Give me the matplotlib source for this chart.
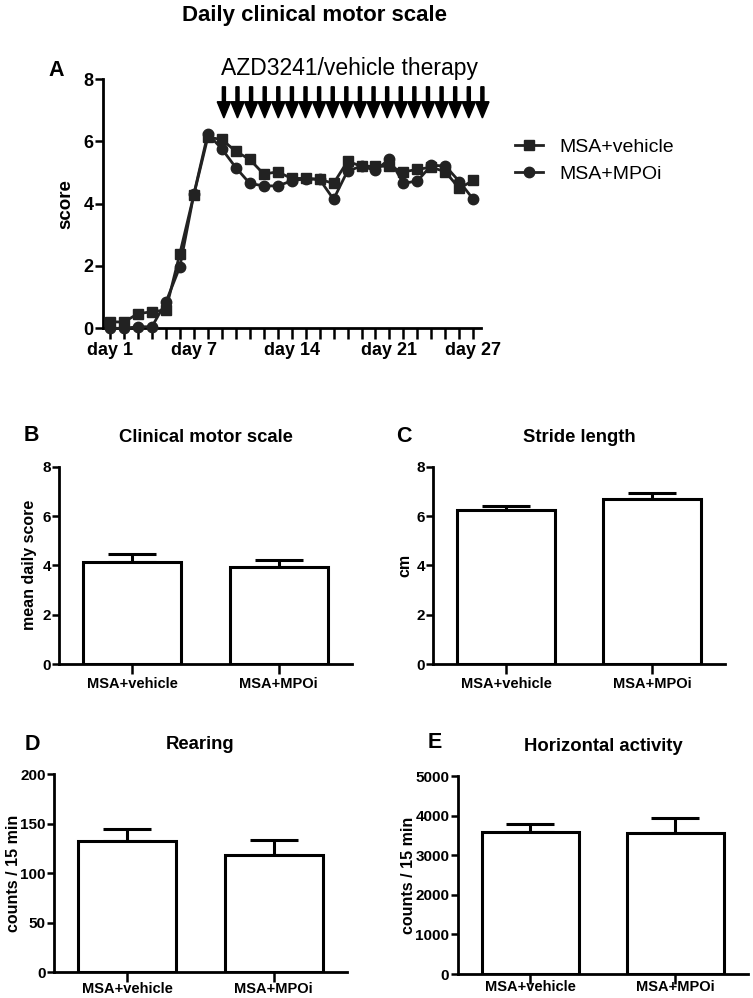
##Daily clinical motor scale + behavioural read-outs (panels A-E)
import numpy as np
import matplotlib
matplotlib.use('Agg')
import matplotlib.pyplot as plt

plt.rcParams['font.family'] = ['Liberation Sans', 'DejaVu Sans']

##Data
days = list(range(1, 28))
vehicle = [0.21, 0.20, 0.47, 0.53, 0.59, 2.40, 4.28, 6.13, 6.06, 5.68, 5.42, 4.95, 5.02,
           4.81, 4.81, 4.78, 4.65, 5.36, 5.20, 5.20, 5.20, 5.02, 5.10, 5.17, 5.02, 4.49, 4.75]
mpoi = [0.00, 0.00, 0.05, 0.05, 0.84, 1.97, 4.30, 6.24, 5.76, 5.16, 4.65, 4.57, 4.57,
        4.73, 4.80, 4.78, 4.14, 5.05, 5.20, 5.07, 5.43, 4.65, 4.73, 5.23, 5.21, 4.71, 4.14]
day_labels = {1: 'day 1', 7: 'day 7', 14: 'day 14', 21: 'day 21', 27: 'day 27'}

groups = ['MSA+vehicle', 'MSA+MPOi']
motor_mean = [4.14, 3.95]
motor_sem = [0.31, 0.25]
stride_mean = [6.23, 6.70]
stride_sem = [0.16, 0.22]
rearing_mean = [132.6, 118.8]
rearing_sem = [11.8, 14.5]
horiz_mean = [3578, 3553]
horiz_sem = [210, 379]

dark = '#222222'
W, H = 753, 998

fig = plt.figure(figsize=(W / 100, H / 100), dpi=100)


def style_axes(ax):
    ax.spines['top'].set_visible(False)
    ax.spines['right'].set_visible(False)
    for s in ['left', 'bottom']:
        ax.spines[s].set_linewidth(2.0)


#Panel A - line chart
ax = fig.add_axes([103 / W, 1 - 328.3 / H, 378 / W, 249.3 / H])
ax.plot(days, vehicle, '-s', color=dark, lw=2.0, ms=7, label='MSA+vehicle', clip_on=False, zorder=3)
ax.plot(days, mpoi, '-o', color=dark, lw=2.0, ms=7.5, label='MSA+MPOi', clip_on=False, zorder=3)
ax.set_xlim(0.5, 27.55)
ax.set_ylim(0, 8)
style_axes(ax)
ax.set_xticks(days)
ax.set_xticklabels([day_labels.get(d, '') for d in days], fontsize=13, fontweight='bold')
ax.set_yticks([0, 2, 4, 6, 8])
ax.set_yticklabels(['0', '2', '4', '6', '8'], fontsize=13, fontweight='bold')
ax.tick_params(axis='x', length=8, width=1.8, pad=2)
ax.tick_params(axis='y', length=6, width=1.8, pad=1)
ax.set_ylabel('score', fontsize=13.5, fontweight='bold')
ax.yaxis.set_label_coords(-0.077, 0.5)

#therapy arrows
for xa in np.linspace(9.15, 27.65, 20):
    ax.arrow(xa, 7.75, 0, -1.0, width=0.22, head_width=0.95, head_length=0.52,
             length_includes_head=True, color='k', clip_on=False)
ax.text(8.95, 8.12, 'AZD3241/vehicle therapy', fontsize=16.5, ha='left', va='baseline', clip_on=False)

ax.legend(loc='upper left', bbox_to_anchor=(515 / W, 1 - 138 / H), bbox_transform=fig.transFigure,
          frameon=False, fontsize=14, handlelength=1.45, handletextpad=0.85, labelspacing=0.5,
          borderpad=0, borderaxespad=0)

fig.text(315 / W, 1 - 20.7 / H, 'Daily clinical motor scale', ha='center', va='baseline',
         fontsize=16, fontweight='bold')


#Panels B-E - bar charts
def bar_panel(rect, means, sems, yticks, ylabel, title, label_x, xpad):
    ax = fig.add_axes(rect)
    x = np.arange(len(groups))
    ax.bar(x, means, width=0.67, color='white', edgecolor='black', linewidth=2.2, zorder=2)
    ax.errorbar(x, means, yerr=[np.zeros(len(sems)), sems], fmt='none', ecolor='black',
                elinewidth=2.2, capsize=17.5, capthick=2.2, zorder=1)
    ax.set_xlim(-0.5, 1.5)
    ax.set_ylim(0, yticks[-1])
    style_axes(ax)
    ax.set_xticks(x)
    ax.set_xticklabels(groups, fontsize=10.5, fontweight='bold')
    ax.set_yticks(yticks)
    ax.set_yticklabels([str(t) for t in yticks], fontsize=11, fontweight='bold')
    ax.tick_params(axis='x', length=7, width=1.8, pad=xpad)
    ax.tick_params(axis='y', length=5, width=1.8, pad=1)
    ax.set_ylabel(ylabel, fontsize=11.5, fontweight='bold')
    ax.yaxis.set_label_coords(label_x, 0.5)
    ax.text(0.5, 1.15, title, transform=ax.transAxes, ha='center', va='center',
            fontsize=13.3, fontweight='bold')
    return ax


bar_panel([59.3 / W, 1 - 664 / H, 292.4 / W, 197.3 / H], motor_mean, motor_sem,
          [0, 2, 4, 6, 8], 'mean daily score', 'Clinical motor scale', -0.075, 2)
bar_panel([433.3 / W, 1 - 664 / H, 291.7 / W, 197.3 / H], stride_mean, stride_sem,
          [0, 2, 4, 6, 8], 'cm', 'Stride length', -0.073, 2)
bar_panel([54.3 / W, 1 - 972.3 / H, 292.4 / W, 198 / H], rearing_mean, rearing_sem,
          [0, 50, 100, 150, 200], 'counts / 15 min', 'Rearing', -0.114, 0)
bar_panel([457.7 / W, 1 - 974 / H, 290.3 / W, 198 / H], horiz_mean, horiz_sem,
          [0, 1000, 2000, 3000, 4000, 5000], 'counts / 15 min', 'Horizontal activity', -0.143, -2.5)

#Panel letters
for letter, (px, py) in {'A': (56.7, 70), 'B': (31.7, 435.5), 'C': (404, 436.7),
                         'D': (32.5, 744), 'E': (434.5, 742)}.items():
    fig.text(px / W, 1 - py / H, letter, fontsize=15.5, fontweight='bold', ha='center', va='center')

plt.savefig('out.png', dpi=100)
